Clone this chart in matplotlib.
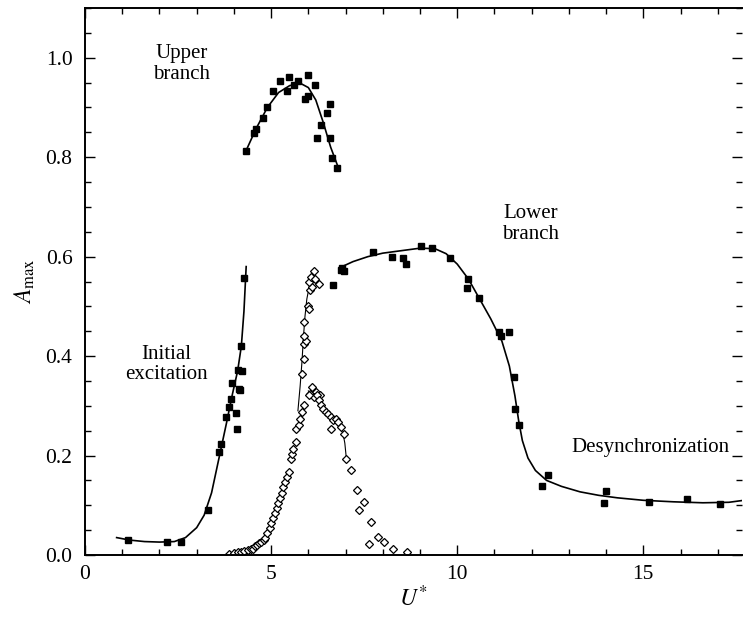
import matplotlib
matplotlib.use("Agg")
import matplotlib.pyplot as plt
from matplotlib.ticker import MultipleLocator

# --- data ---
# initial excitation (filled squares)
init_x = [1.16, 2.19, 2.57, 3.31, 3.60, 3.65, 3.78, 3.87, 3.92, 3.96, 4.05, 4.07,
          4.11, 4.14, 4.17, 4.23, 4.20, 4.27]
init_y = [0.031, 0.027, 0.027, 0.090, 0.207, 0.224, 0.277, 0.297, 0.314, 0.346, 0.285, 0.254,
          0.372, 0.334, 0.332, 0.370, 0.420, 0.558]
init_fit_x = [0.85, 1.2, 1.6, 2.0, 2.4, 2.7, 3.0, 3.2, 3.4, 3.6, 3.8, 3.95, 4.1, 4.2, 4.27, 4.33]
init_fit_y = [0.035, 0.030, 0.027, 0.026, 0.027, 0.035, 0.055, 0.080, 0.125, 0.195, 0.265,
              0.320, 0.370, 0.420, 0.490, 0.580]

# upper branch (filled squares)
upper_x = [4.32, 4.54, 4.59, 4.78, 4.90, 5.05, 5.23, 5.44, 5.48, 5.62, 5.73, 5.98, 6.18,
           5.91, 6.00, 6.58, 6.49, 6.34, 6.24, 6.58, 6.63, 6.78]
upper_y = [0.812, 0.849, 0.856, 0.879, 0.901, 0.934, 0.953, 0.934, 0.961, 0.946, 0.954, 0.966,
           0.945, 0.918, 0.923, 0.906, 0.889, 0.865, 0.838, 0.838, 0.799, 0.779]
upper_fit_x = [4.32, 4.6, 4.9, 5.2, 5.5, 5.8, 6.0, 6.2, 6.4, 6.6, 6.8]
upper_fit_y = [0.812, 0.858, 0.900, 0.930, 0.944, 0.948, 0.940, 0.915, 0.870, 0.820, 0.780]

# lower branch and desynchronization (filled squares)
lower_x = [6.65, 6.88, 6.90, 6.97, 7.74, 8.26, 8.55, 8.62, 9.02, 9.32, 9.81, 10.28, 10.25,
           10.59, 11.13, 11.17, 11.40, 11.53, 11.56, 11.67, 12.43, 12.29, 14.00, 13.93,
           15.16, 16.17, 17.07]
lower_y = [0.542, 0.574, 0.578, 0.572, 0.610, 0.600, 0.598, 0.586, 0.622, 0.618, 0.597, 0.555,
           0.537, 0.517, 0.448, 0.441, 0.448, 0.358, 0.294, 0.261, 0.160, 0.138, 0.129, 0.105,
           0.107, 0.112, 0.102]
lower_fit_x = [6.85, 7.2, 7.6, 8.0, 8.5, 9.0, 9.4, 9.7, 10.0, 10.3, 10.6, 10.9, 11.2, 11.4,
               11.55, 11.65, 11.75, 11.9, 12.1, 12.4, 12.8, 13.3, 13.8, 14.3, 15.0, 15.8,
               16.6, 17.3, 17.7]
lower_fit_y = [0.578, 0.590, 0.600, 0.607, 0.612, 0.617, 0.616, 0.606, 0.585, 0.555, 0.515,
               0.475, 0.430, 0.380, 0.320, 0.270, 0.230, 0.195, 0.170, 0.150, 0.138, 0.127,
               0.120, 0.115, 0.110, 0.107, 0.105, 0.106, 0.110]

# second data set (open diamonds)
open_x = [3.87, 4.01, 4.10, 4.19, 4.28, 4.37, 4.45, 4.50, 4.56, 4.63, 4.68, 4.74, 4.80, 4.83,
          4.90, 4.97, 5.01, 5.06, 5.10, 5.15, 5.19, 5.24, 5.28, 5.33, 5.37, 5.42, 5.48,
          5.53, 5.57, 5.60, 5.66, 5.66, 5.75, 5.78, 5.84, 5.87, 5.84, 5.87, 5.87, 5.93, 5.89,
          5.89, 5.98, 6.02, 6.05, 6.11, 6.02, 6.08, 6.17, 6.29, 6.14,
          6.11, 6.20, 6.05, 6.32, 6.14, 6.02, 6.24, 6.29, 6.34, 6.40, 6.47, 6.54, 6.60, 6.65,
          6.74, 6.81, 6.87, 6.60, 6.96, 7.01, 7.14, 7.32, 7.50, 7.35, 7.68, 7.86, 8.04, 7.63,
          8.28, 8.66]
open_y = [0.003, 0.005, 0.006, 0.007, 0.008, 0.010, 0.012, 0.013, 0.018, 0.020, 0.024, 0.027,
          0.030, 0.034, 0.044, 0.054, 0.064, 0.074, 0.084, 0.094, 0.104, 0.114, 0.124, 0.136,
          0.147, 0.157, 0.167, 0.194, 0.204, 0.214, 0.227, 0.254, 0.261, 0.274, 0.287, 0.301,
          0.364, 0.395, 0.425, 0.431, 0.441, 0.468, 0.500, 0.495, 0.532, 0.538, 0.548, 0.560,
          0.555, 0.545, 0.572,
          0.338, 0.328, 0.324, 0.321, 0.318, 0.321, 0.321, 0.311, 0.301, 0.294, 0.287, 0.284,
          0.277, 0.271, 0.274, 0.267, 0.257, 0.254, 0.244, 0.194, 0.171, 0.130, 0.107, 0.090,
          0.067, 0.037, 0.027, 0.023, 0.013, 0.007]
open_fit1_x = [5.72, 5.78, 5.83, 5.87, 5.91, 5.96, 6.02, 6.10, 6.17]
open_fit1_y = [0.290, 0.340, 0.390, 0.440, 0.480, 0.515, 0.538, 0.552, 0.562]
open_fit2_x = [6.00, 6.20, 6.40, 6.60, 6.80, 6.93, 6.98, 7.02]
open_fit2_y = [0.330, 0.315, 0.295, 0.276, 0.260, 0.245, 0.225, 0.195]

# annotations
labels = ["Upper\nbranch", "Initial\nexcitation", "Lower\nbranch", "Desynchronization"]
label_x = [2.6, 2.18, 11.96, 15.2]
label_y = [0.987, 0.383, 0.666, 0.217]

plt.rcParams['font.family'] = ['Liberation Serif', 'DejaVu Serif']
plt.rcParams['mathtext.fontset'] = 'stix'

fig = plt.figure(figsize=(7.44, 6.22), dpi=100)
ax = fig.add_axes([85 / 744, 67 / 622, 657 / 744, 547 / 622])

# fitted curves
ax.plot(init_fit_x, init_fit_y, color='black', lw=1.2)
ax.plot(upper_fit_x, upper_fit_y, color='black', lw=1.2)
ax.plot(lower_fit_x, lower_fit_y, color='black', lw=1.2)
ax.plot(open_fit1_x, open_fit1_y, color='black', lw=0.8)
ax.plot(open_fit2_x, open_fit2_y, color='black', lw=0.8)

# markers
sq = dict(ls='none', marker='s', ms=5, color='black')
ax.plot(init_x, init_y, **sq)
ax.plot(upper_x, upper_y, **sq)
ax.plot(lower_x, lower_y, **sq)
ax.plot(open_x, open_y, ls='none', marker='D', ms=4.5, mfc='white', mec='black', mew=0.9)

for txt, lx, ly in zip(labels, label_x, label_y):
    ax.text(lx, ly, txt, ha='center', va='center', multialignment='center',
            fontsize=15, linespacing=1.1)

ax.set_xlim(0, 17.65)
ax.set_ylim(0, 1.1)
ax.xaxis.set_major_locator(MultipleLocator(5))
ax.xaxis.set_minor_locator(MultipleLocator(1))
ax.yaxis.set_major_locator(MultipleLocator(0.2))
ax.yaxis.set_minor_locator(MultipleLocator(0.05))
ax.yaxis.set_major_formatter(plt.FuncFormatter(lambda v, p: f"{v:.1f}"))
ax.tick_params(which='both', direction='in', top=True, right=True, labelsize=15.5, width=1.0)
ax.tick_params(which='major', length=7)
ax.tick_params(which='minor', length=4)
ax.tick_params(axis='x', pad=7)
ax.tick_params(axis='y', pad=9)
for s in ['left', 'bottom', 'top']:
    ax.spines[s].set_linewidth(1.4)
ax.spines['right'].set_visible(False)

ax.set_xlabel(r'$U^{*}$', fontsize=17, labelpad=1)
ax.set_ylabel(r'$A_{\rm max}$', fontsize=17, labelpad=6)

fig.savefig('out.png', dpi=100)
